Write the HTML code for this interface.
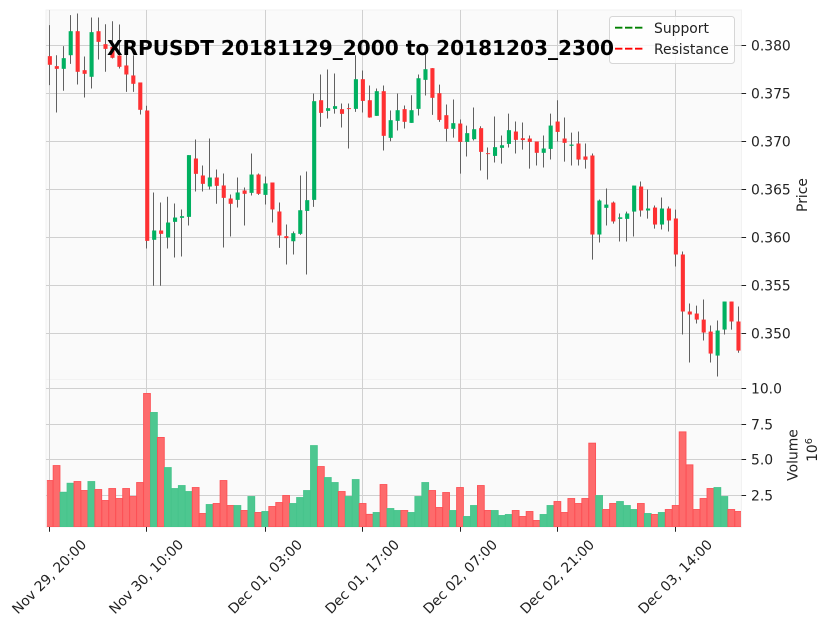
<!DOCTYPE html>
<html lang="en">
<head>
<meta charset="utf-8">
<title>XRPUSDT chart</title>
<style>
html,body{margin:0;padding:0;background:#fff;}
svg{display:block;}
text{font-family:"DejaVu Sans","Liberation Sans",sans-serif;fill:#222;}
</style>
</head>
<body>
<svg id="chart" width="832" height="626" viewBox="0 0 832 626" xmlns="http://www.w3.org/2000/svg">
  <defs>
    <clipPath id="volume-clip"><rect x="46.9" y="380" width="694.1" height="147"/></clipPath>
  </defs>
  <rect x="0" y="0" width="832" height="626" fill="#ffffff"/>
  <rect x="46" y="10" width="695.5" height="369.5" fill="#fafafa" stroke="#f2f2f2" stroke-width="1"/>
  <rect x="46" y="379.5" width="695.5" height="147.5" fill="#fafafa" stroke="#f2f2f2" stroke-width="1"/>
  <g id="grid"></g>
  <g id="volumes" clip-path="url(#volume-clip)"></g>
  <g id="candles"></g>
  <g id="axes"></g>
  <text transform="translate(807,195) rotate(-90)" text-anchor="middle" font-size="13.9">Price</text>
  <text transform="translate(797.5,455) rotate(-90)" text-anchor="middle" font-size="13.9">Volume</text>
  <text transform="translate(817,450) rotate(-90)" text-anchor="middle" font-size="13.9">10<tspan dy="-5" font-size="9.7">6</tspan></text>
  <g>
    <rect x="609.5" y="16.5" width="125" height="47" rx="3" ry="3" fill="#ffffff" fill-opacity="0.8" stroke="#d6d6d6" stroke-width="1"/>
    <line x1="615" y1="27.7" x2="642.5" y2="27.7" stroke="#008000" stroke-width="1.8" stroke-dasharray="7.4,2.6"/>
    <text x="654" y="33.2" font-size="13.9">Support</text>
    <line x1="615" y1="48.7" x2="642.5" y2="48.7" stroke="#ff0000" stroke-width="1.8" stroke-dasharray="7.4,2.6"/>
    <text x="654" y="54.2" font-size="13.9">Resistance</text>
  </g>
  <text x="360.5" y="55" text-anchor="middle" font-size="20.1" font-weight="700" style="fill:#000">XRPUSDT 20181129_2000 to 20181203_2300</text>
</svg>
<script>
const opens = [.37889,.37785,.37757,.37899,.38149,.37743,.37674,.38149,.38014,.37986,.37896,.37792,.37688,.37615,.37323,.35976,.36073,.36,.36163,.36205,.36215,.36823,.36646,.36531,.36625,.36542,.36406,.36392,.3649,.36465,.36656,.36444,.36573,.36271,.36014,.35961,.36038,.36277,.36392,.3743,.37319,.3734,.37337,.37347,.3734,.37649,.3743,.37267,.37524,.37038,.37215,.37337,.37194,.3734,.37642,.37764,.37503,.37274,.37132,.37187,.36996,.37024,.37139,.36878,.3685,.36934,.36975,.37104,.37034,.37031,.37,.36882,.36923,.37208,.37031,.36955,.36979,.36844,.36854,.36031,.36309,.36364,.36194,.36194,.3627,.36531,.36281,.36312,.36135,.36302,.36198,.35823,.35229,.35208,.35145,.3502,.3477,.35041,.35333,.35125];
const highs = [.38212,.37899,.37993,.38316,.38333,.37885,.38292,.38292,.38222,.38253,.38219,.37934,.37899,.37615,.37372,.36469,.36365,.36424,.36354,.36292,.36858,.37021,.3675,.37031,.36708,.36667,.36448,.36625,.36521,.36875,.36667,.36635,.36573,.36365,.36135,.36063,.36646,.36687,.375,.37698,.3775,.37708,.37396,.37396,.37899,.37739,.37583,.37552,.37583,.37323,.375,.37375,.37482,.37698,.3795,.37764,.37593,.37385,.37437,.37229,.37166,.37354,.37159,.36937,.3726,.37062,.37291,.37208,.37198,.37062,.37,.37062,.37291,.3743,.3725,.37093,.37104,.36979,.36875,.36396,.3651,.36375,.3625,.3627,.36541,.36583,.365,.36333,.36417,.36323,.36291,.35854,.35312,.35291,.35354,.35083,.35135,.35333,.35333,.35281];
const lows = [.37587,.37302,.37528,.37809,.37594,.37458,.37552,.37854,.37726,.37865,.3776,.37517,.37517,.37281,.35885,.35497,.35497,.35885,.35792,.35802,.36125,.36479,.36479,.365,.36351,.35896,.3601,.36313,.36125,.36438,.36444,.36344,.36156,.35892,.35719,.35823,.36027,.35615,.36319,.37152,.37239,.37291,.37146,.36927,.37309,.37302,.37247,.37267,.36906,.37003,.37114,.37135,.37194,.37271,.37479,.37277,.37205,.37,.37041,.36666,.36844,.3701,.36698,.36604,.36781,.3677,.36937,.36875,.36916,.36718,.3675,.36729,.36812,.37,.36791,.3675,.3675,.36718,.3577,.35948,.36125,.36145,.35958,.35958,.3601,.36218,.36197,.36093,.36083,.36062,.35698,.3499,.34698,.35104,.34927,.34698,.34552,.3499,.35041,.348];
const closes = [.37799,.37757,.37868,.38149,.37726,.37705,.38139,.38038,.37965,.37872,.37778,.37698,.37601,.3733,.35965,.36073,.36038,.36156,.36208,.36222,.36858,.36663,.36559,.36625,.36538,.36413,.36351,.36469,.36455,.36656,.36455,.36563,.36292,.36021,.35993,.36045,.36284,.36389,.3742,.37298,.37347,.37368,.37288,.3734,.37649,.37423,.3725,.37524,.37059,.37222,.37326,.37205,.37326,.37659,.37753,.37455,.37225,.37132,.37191,.36996,.37087,.37128,.36892,.36871,.36941,.36961,.37118,.37017,.37015,.36996,.36882,.36927,.37166,.371,.36986,.36968,.36812,.3681,.36031,.36385,.36343,.36167,.3621,.3625,.36541,.36281,.36302,.36135,.36302,.36177,.35823,.35229,.35198,.35145,.3501,.34791,.35031,.35333,.35125,.34822];
const volumes = [3.55,4.60,2.73,3.36,3.48,2.85,3.48,2.92,2.15,2.99,2.29,2.99,2.43,3.41,9.65,8.32,6.57,4.46,2.99,3.20,2.78,3.06,1.24,1.87,1.94,3.55,1.80,1.80,1.45,2.43,1.31,1.38,1.73,2.01,2.50,1.94,2.36,2.85,6.00,4.53,3.76,3.41,2.78,2.43,3.62,1.94,1.18,1.31,3.27,1.59,1.45,1.45,1.31,2.43,3.41,2.85,1.66,2.71,1.45,3.06,1.03,1.80,3.20,1.45,1.45,1.10,1.17,1.45,1.03,1.38,.75,1.17,1.80,2.08,1.31,2.29,1.94,2.29,6.17,2.50,1.52,1.94,2.08,1.80,1.52,1.94,1.24,1.17,1.31,1.52,1.80,6.96,4.65,1.52,2.29,2.99,3.06,2.43,1.52,1.38];
const priceTicks = [0.350,0.355,0.360,0.365,0.370,0.375,0.380];
const priceTickLabels = ['0.350','0.355','0.360','0.365','0.370','0.375','0.380'];
const volumeTicks = [2.5,5.0,7.5,10.0];
const volumeTickLabels = ['2.5','5.0','7.5','10.0'];
const dateTickIndex = [0,14,31,45,59,73,90];
const dateTickLabels = ['Nov 29, 20:00','Nov 30, 10:00','Dec 01, 03:00','Dec 01, 17:00','Dec 02, 07:00','Dec 02, 21:00','Dec 03, 14:00'];

const SVGNS = 'http://www.w3.org/2000/svg';
const xScale = i => 49.6 + i * 6.956;
const yPrice = v => 45.5 + (0.38 - v) * 9600;
const yVolume = v => 388.5 + (10 - v) * 14.27;
const snap = p => Math.floor(p) + 0.5;
const VOLUME_BASE = 527;
const PANEL_LEFT = 46, PANEL_RIGHT = 741.5, PANEL_TOP = 10;

function make(parent, tag, attrs) {
  const el = document.createElementNS(SVGNS, tag);
  for (const k in attrs) el.setAttribute(k, attrs[k]);
  parent.appendChild(el);
  return el;
}

const grid = document.getElementById('grid');
const axes = document.getElementById('axes');
const candles = document.getElementById('candles');
const vols = document.getElementById('volumes');

priceTicks.forEach((v, k) => {
  const y = snap(yPrice(v));
  const g = make(grid, 'line', {x1: PANEL_LEFT, x2: PANEL_RIGHT, y1: y, y2: y, stroke: '#d0d0d0', 'stroke-width': 1});
  
  
  const t = make(axes, 'line', {x1: PANEL_RIGHT, x2: PANEL_RIGHT + 4.6, y1: y, y2: y, stroke: '#222', 'stroke-width': 1});
  
  
  const l = make(axes, 'text', {x: 751, y: y + 5.1, 'font-size': 13.9});
  l.textContent = priceTickLabels[k];
  
  
});

volumeTicks.forEach((v, k) => {
  const y = snap(yVolume(v));
  const g = make(grid, 'line', {x1: PANEL_LEFT, x2: PANEL_RIGHT, y1: y, y2: y, stroke: '#d0d0d0', 'stroke-width': 1});
  
  
  const t = make(axes, 'line', {x1: PANEL_RIGHT, x2: PANEL_RIGHT + 4.6, y1: y, y2: y, stroke: '#222', 'stroke-width': 1});
  
  
  const l = make(axes, 'text', {x: 751, y: y + 5.1, 'font-size': 13.9});
  l.textContent = volumeTickLabels[k];
  
  
});

dateTickIndex.forEach((idx, k) => {
  const x = snap(xScale(idx));
  const g = make(grid, 'line', {x1: x, x2: x, y1: PANEL_TOP, y2: VOLUME_BASE, stroke: '#d0d0d0', 'stroke-width': 1});
  
  
  const t = make(axes, 'line', {x1: x, x2: x, y1: VOLUME_BASE, y2: VOLUME_BASE + 4.8, stroke: '#222', 'stroke-width': 1});
  
  
  const l = make(axes, 'text', {transform: 'translate(' + (x - 0.5) + ',576.5) rotate(-45)', 'text-anchor': 'middle', y: 5, 'font-size': 13.9});
  l.textContent = dateTickLabels[k];
  
  
});

volumes.forEach((v, i) => {
  const up = i === 0 ? closes[i] >= opens[i] : closes[i] >= closes[i - 1];
  const top = yVolume(v);
  const r = make(vols, 'rect', {
    x: xScale(i) - 3.4, y: top, width: 6.8, height: VOLUME_BASE - top,
    fill: up ? '#4dc790' : '#fd6b6c', stroke: up ? '#47c48c' : '#fd5055', 'stroke-width': 0.9
  });
  
  
});

opens.forEach((o, i) => {
  const c = closes[i];
  const x = xScale(i);
  const wx = snap(x);
  const wick = make(candles, 'line', {x1: wx, x2: wx, y1: yPrice(highs[i]), y2: yPrice(lows[i]), stroke: '#606060', 'stroke-width': 1});
  
  
  const top = yPrice(Math.max(o, c));
  const h = Math.max(Math.abs(yPrice(o) - yPrice(c)), 0.9);
  const body = make(candles, 'rect', {x: x - 1.8, y: top, width: 4.1, height: h, fill: c >= o ? '#00b060' : '#fe3032'});
  
  
});
</script>
</body>
</html>
